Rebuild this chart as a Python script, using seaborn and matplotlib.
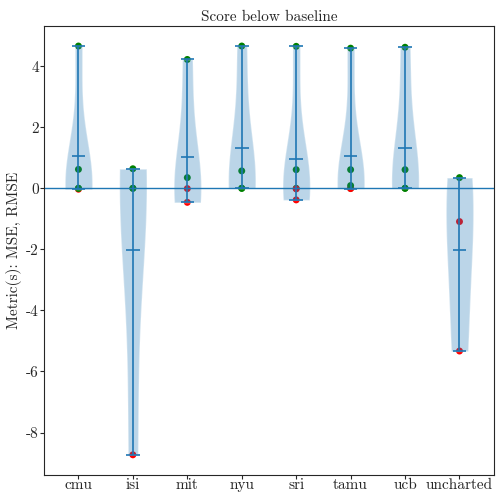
import numpy as np
import pandas as pd
import matplotlib
matplotlib.use("Agg")
import matplotlib.pyplot as plt
import seaborn as sns

# scores below baseline, one list per team
teams = ["cmu", "isi", "mit", "nyu", "sri", "tamu", "ucb", "uncharted"]
cmu = [4.66, 0.62, -0.03, 0.0, 0.0]
isi = [0.64, 0.0, 0.0, -8.73]
mit = [4.22, 0.35, -0.01, -0.46]
nyu = [4.66, 0.57, 0.0, 0.0]
sri = [4.65, 0.61, 0.0, -0.02, -0.38]
tamu = [4.59, 0.61, 0.0, -0.01, 0.09]
ucb = [4.62, 0.61, 0.0, 0.0]
uncharted = [0.35, -1.09, -5.33]
scores = [cmu, isi, mit, nyu, sri, tamu, ucb, uncharted]

sns.set_style("ticks")
plt.rcParams["font.family"] = "serif"
plt.rcParams["font.serif"] = ["cmr10", "DejaVu Serif"]
plt.rcParams["axes.unicode_minus"] = False

rows = []
for i, vals in enumerate(scores):
    for v in vals:
        rows.append({"pos": i + 1, "score": v, "sign": "pos" if v >= 0 else "neg"})
df = pd.DataFrame(rows)

fig, ax = plt.subplots(figsize=(4.99, 4.92), dpi=100)

sns.scatterplot(data=df, x="pos", y="score", hue="sign",
                palette={"pos": "green", "neg": "red"},
                s=25, linewidth=0, legend=False, ax=ax, zorder=1)
parts = ax.violinplot(scores, positions=range(1, len(teams) + 1), showmeans=True)
for key in ["cmeans", "cmins", "cmaxes", "cbars"]:
    parts[key].set_linewidth(1.2)
ax.axhline(0, color="C0", linewidth=1)

ax.set_xticks(range(1, len(teams) + 1))
ax.set_xticklabels(teams)
ax.set_xlabel("")
ax.set_ylabel("Metric(s): MSE, RMSE", fontsize=11, labelpad=3)
ax.set_title("Score below baseline", fontsize=11, pad=3)
ax.tick_params(labelsize=11, length=3)
ax.tick_params(axis="x", pad=-0.5)
ax.tick_params(axis="y", pad=1)

plt.subplots_adjust(left=0.089, right=0.989, top=0.948, bottom=0.034)
fig.savefig("out.png", dpi=100)
